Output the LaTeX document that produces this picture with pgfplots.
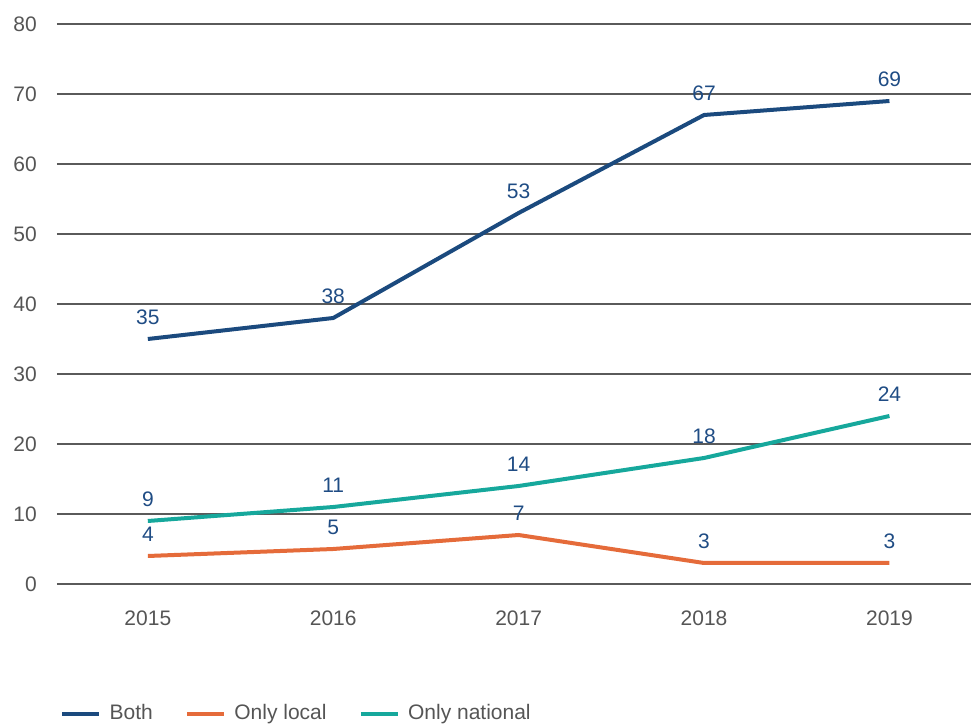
\documentclass[border=0pt]{standalone}
\usepackage{pgfplots}
\pgfplotsset{compat=1.18}
\usepackage{fontspec}
\setmainfont{Liberation Sans}
\definecolor{cboth}{HTML}{1B4A7E}
\definecolor{clocal}{HTML}{E56B3A}
\definecolor{cnat}{HTML}{16A89C}
\definecolor{clab}{HTML}{1F4C84}
\definecolor{ctick}{HTML}{555555}
\definecolor{cgrid}{HTML}{5A5A5A}
\begin{document}
\fontsize{21}{25}\selectfont
\begin{tikzpicture}
\begin{axis}[
  scale only axis, width=914pt, height=560pt,
  xmin=-0.49, xmax=4.44, ymin=0, ymax=80,
  xtick={0,1,2,3,4}, xticklabels={2015,2016,2017,2018,2019},
  ytick={0,10,...,80},
  ymajorgrids, grid style={line width=1.2pt, color=cgrid},
  axis line style={draw=none}, major tick length=0pt,
  ticklabel style={font=\fontsize{21}{25}\selectfont, text=ctick},
  /pgf/number format/assume math mode=true,
  yticklabel style={xshift=-13pt},
  xticklabel style={yshift=-20pt},
  clip=false,
  nodes near coords,
  every node near coord/.append style={font=\fontsize{21}{25}\selectfont, text=clab, anchor=south, yshift=5pt},
  legend columns=3,
  legend style={draw=none, fill=none, at={(0.0,-0.232)}, anchor=west,
    font=\fontsize{21}{25}\selectfont, text=ctick,
    /tikz/every odd column/.append style={column sep=6pt},
    /tikz/every even column/.append style={column sep=30pt}},
  legend image code/.code={\draw[#1, line width=4.5pt] (0pt,0pt) -- (37pt,0pt);},
]
\addplot[cboth, line width=4pt, no marks] coordinates {(0,35) (1,38) (2,53) (3,67) (4,69)};
\addlegendentry{Both}
\addplot[clocal, line width=4pt, no marks] coordinates {(0,4) (1,5) (2,7) (3,3) (4,3)};
\addlegendentry{Only local}
\addplot[cnat, line width=4pt, no marks] coordinates {(0,9) (1,11) (2,14) (3,18) (4,24)};
\addlegendentry{Only national}
\end{axis}
\pgfresetboundingbox
\path[use as bounding box] ([xshift=-57pt,yshift=-140pt]current axis.south west) rectangle ([yshift=24pt]current axis.north east);
\end{tikzpicture}
\end{document}
